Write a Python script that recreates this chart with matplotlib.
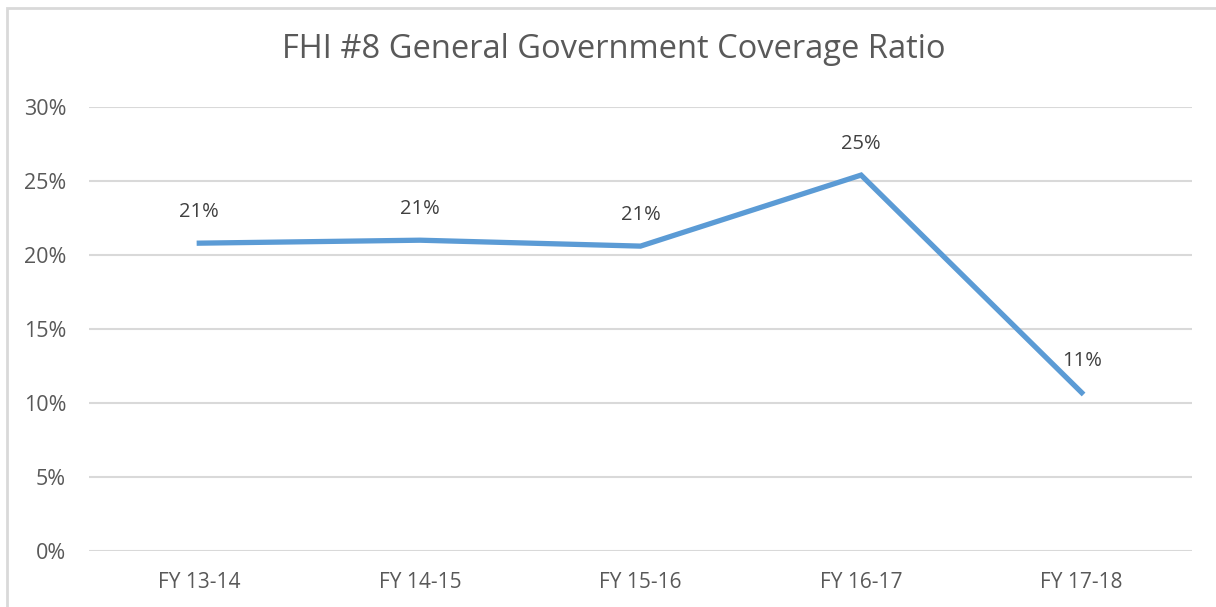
import matplotlib.pyplot as plt
from matplotlib.patches import Rectangle
from matplotlib.ticker import PercentFormatter

# chart data
years = ["FY 13-14", "FY 14-15", "FY 15-16", "FY 16-17", "FY 17-18"]
ratio = [20.8, 21.0, 20.6, 25.4, 10.7]
labels = ["21%", "21%", "21%", "25%", "11%"]

plt.rcParams['font.family'] = ['Open Sans', 'DejaVu Sans']

fig = plt.figure(figsize=(12.16, 6.07), dpi=100)
ax = fig.add_axes([89/1216, 1-551/607, (1192-89)/1216, (551-107)/607])

# outer frame (cut off on the right and bottom)
fig.patches.append(Rectangle((7/1216, -0.1), 1.2, 1-8/607+0.1, transform=fig.transFigure,
                             fill=False, edgecolor="#D9D9D9", lw=2))

xs = range(len(years))
ax.plot(xs, ratio, color="#5B9BD5", lw=3.8, solid_joinstyle="miter", zorder=3)

for x, y, t in zip(xs, ratio, labels):
    ax.annotate(t, (x, y), xytext=(0, 22.5), textcoords="offset points",
                ha="center", va="center", fontsize=14.5, color="#404040")

ax.set_xlim(-0.5, len(years)-0.5)
ax.set_ylim(0, 30)
ax.set_yticks(range(0, 31, 5))
ax.yaxis.set_major_formatter(PercentFormatter(decimals=0))
ax.set_xticks(list(xs))
ax.set_xticklabels(years)

ax.grid(axis="y", color="#D9D9D9", lw=1.5)
ax.set_axisbelow(True)
for s in ax.spines.values():
    s.set_visible(False)
ax.tick_params(length=0, colors="#595959", labelsize=15)
ax.tick_params(axis="y", pad=16.5, labelsize=15.5)
ax.tick_params(axis="x", pad=15)

fig.text(0.505, 1-50/607, "FHI #8 General Government Coverage Ratio",
         ha="center", va="center", fontsize=23.5, color="#595959")

plt.savefig("out.png")
